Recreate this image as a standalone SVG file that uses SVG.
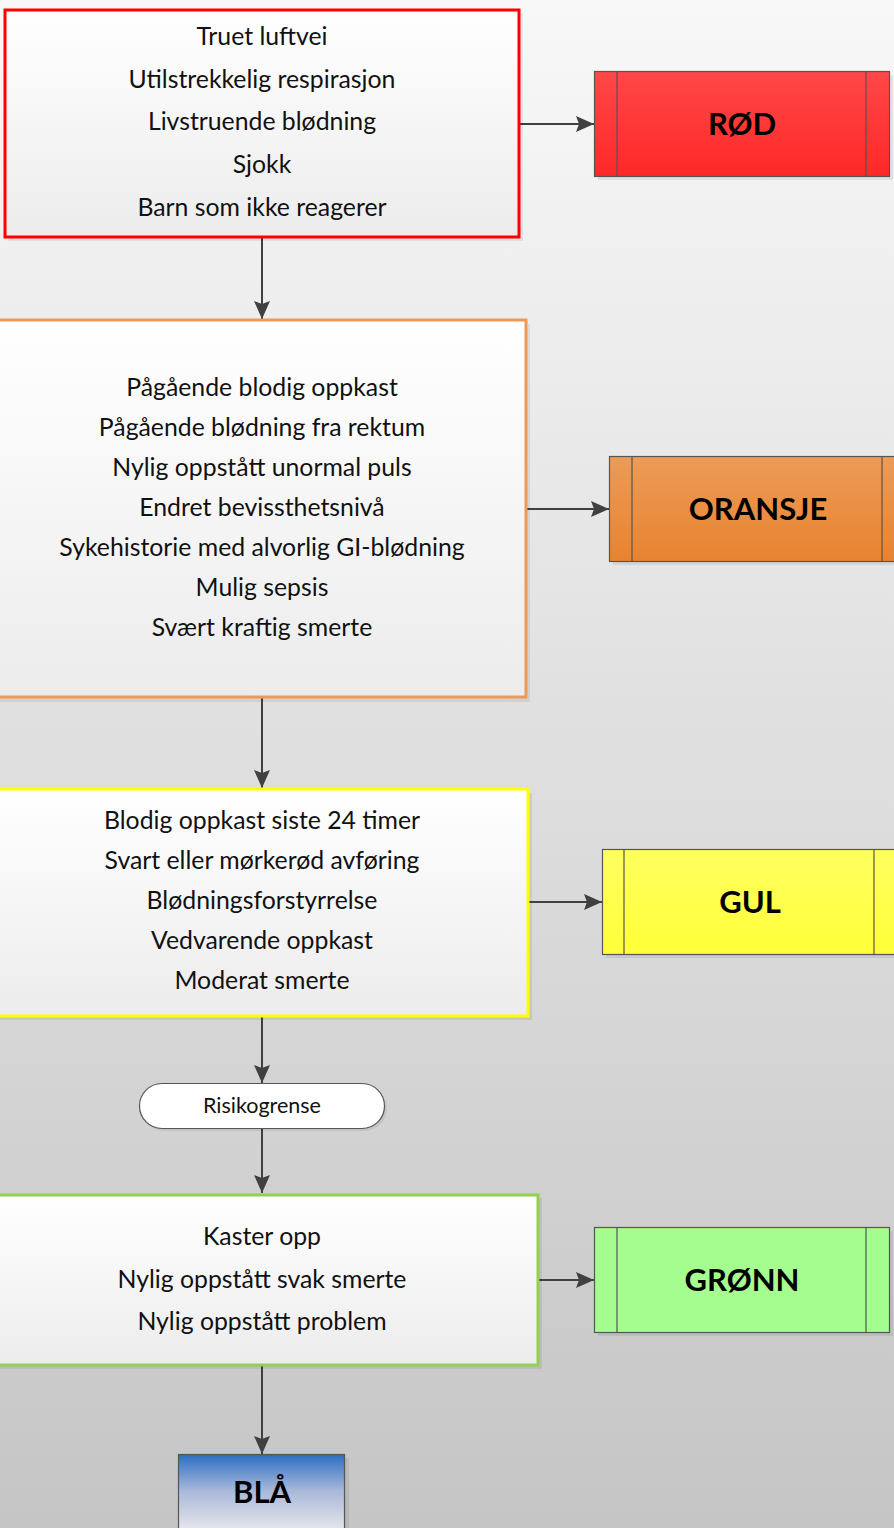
<svg xmlns="http://www.w3.org/2000/svg" width="894" height="1528" viewBox="0 0 894 1528">
  <defs>
    <linearGradient id="bg" x1="0" y1="0" x2="0" y2="1">
      <stop offset="0" stop-color="#f8f8f8"/>
      <stop offset="1" stop-color="#c5c5c5"/>
    </linearGradient>
    <linearGradient id="boxFill" x1="0" y1="0" x2="0" y2="1">
      <stop offset="0" stop-color="#ffffff"/>
      <stop offset="1" stop-color="#ececec"/>
    </linearGradient>
    <linearGradient id="redFill" x1="0" y1="0" x2="0" y2="1">
      <stop offset="0" stop-color="#ff4747"/>
      <stop offset="1" stop-color="#ff2828"/>
    </linearGradient>
    <linearGradient id="orangeFill" x1="0" y1="0" x2="0" y2="1">
      <stop offset="0" stop-color="#ec9b58"/>
      <stop offset="1" stop-color="#e8832f"/>
    </linearGradient>
    <linearGradient id="yellowFill" x1="0" y1="0" x2="0" y2="1">
      <stop offset="0" stop-color="#ffff60"/>
      <stop offset="1" stop-color="#ffff38"/>
    </linearGradient>
    <linearGradient id="blueFill" x1="0" y1="0" x2="0" y2="1">
      <stop offset="0" stop-color="#2a6fc2"/>
      <stop offset="0.45" stop-color="#a9b7d9"/>
      <stop offset="1" stop-color="#ececec"/>
    </linearGradient>
    <marker id="arrow" viewBox="0 0 18 16" refX="18" refY="8" markerWidth="18" markerHeight="16" markerUnits="userSpaceOnUse" orient="auto">
      <path d="M0,0 L18,8 L0,16 L3,8 Z" fill="#404040"/>
    </marker>
  </defs>
  <style>
    .item { font-family: "Lato", "Liberation Sans", sans-serif; font-size: 24.8px; fill: #111; text-anchor: middle; }
    .level { font-family: "Lato", "Liberation Sans", sans-serif; font-size: 31px; font-weight: bold; fill: #000; text-anchor: middle; }
    .pill { font-family: "Lato", "Liberation Sans", sans-serif; font-size: 21.5px; fill: #111; text-anchor: middle; }
    .shadow { fill: #000; opacity: 0.07; }
    .panel { fill: url(#boxFill); stroke-width: 3; }
    .tag { stroke: #555; stroke-width: 1.2; }
    .divider { stroke: #555; stroke-width: 1.2; }
    .conn { stroke: #404040; stroke-width: 2; fill: none; marker-end: url(#arrow); }
  </style>

  <rect x="0" y="0" width="894" height="1528" fill="url(#bg)"/>

  <!-- connectors -->
  <g id="connectors">
    <line class="conn" x1="519" y1="124" x2="594" y2="124"/>
    <line class="conn" x1="262" y1="237" x2="262" y2="319"/>
    <line class="conn" x1="526" y1="509" x2="609" y2="509"/>
    <line class="conn" x1="262" y1="698" x2="262" y2="788"/>
    <line class="conn" x1="528" y1="902" x2="602" y2="902"/>
    <line class="conn" x1="262" y1="1016" x2="262" y2="1083"/>
    <line class="conn" x1="262" y1="1128" x2="262" y2="1193"/>
    <line class="conn" x1="538" y1="1280" x2="594" y2="1280"/>
    <line class="conn" x1="262" y1="1365" x2="262" y2="1454"/>
  </g>

  <!-- red criteria -->
  <g id="red-criteria">
    <rect class="shadow" x="8" y="13" width="515" height="228"/>
    <rect class="panel" x="5" y="10" width="514" height="227" stroke="#ff0000"/>
    <text class="item" x="262" y="45">Truet luftvei</text>
    <text class="item" x="262" y="88">Utilstrekkelig respirasjon</text>
    <text class="item" x="262" y="130">Livstruende blødning</text>
    <text class="item" x="262" y="173">Sjokk</text>
    <text class="item" x="262" y="216">Barn som ikke reagerer</text>
  </g>

  <!-- red level -->
  <g id="level-red">
    <rect class="shadow" x="598" y="75" width="295" height="105"/>
    <rect class="tag" x="594.5" y="71.5" width="295" height="105" fill="url(#redFill)"/>
    <line class="divider" x1="617" y1="71.5" x2="617" y2="176.5"/>
    <line class="divider" x1="866" y1="71.5" x2="866" y2="176.5"/>
    <text class="level" x="742" y="135">RØD</text>
  </g>

  <!-- orange criteria -->
  <g id="orange-criteria">
    <rect class="shadow" x="-10" y="324" width="540" height="378"/>
    <rect class="panel" x="-10" y="320" width="536" height="377" stroke="#ed9a55"/>
    <text class="item" x="262" y="396">Pågående blodig oppkast</text>
    <text class="item" x="262" y="436">Pågående blødning fra rektum</text>
    <text class="item" x="262" y="476">Nylig oppstått unormal puls</text>
    <text class="item" x="262" y="516">Endret bevissthetsnivå</text>
    <text class="item" x="262" y="556">Sykehistorie med alvorlig GI-blødning</text>
    <text class="item" x="262" y="596">Mulig sepsis</text>
    <text class="item" x="262" y="636">Svært kraftig smerte</text>
  </g>

  <!-- orange level -->
  <g id="level-orange">
    <rect class="shadow" x="613" y="460" width="295" height="105"/>
    <rect class="tag" x="609.5" y="456.5" width="295" height="105" fill="url(#orangeFill)"/>
    <line class="divider" x1="632" y1="456.5" x2="632" y2="561.5"/>
    <line class="divider" x1="882" y1="456.5" x2="882" y2="561.5"/>
    <text class="level" x="758" y="520">ORANSJE</text>
  </g>

  <!-- yellow criteria -->
  <g id="yellow-criteria">
    <rect class="shadow" x="-10" y="793" width="542" height="227"/>
    <rect class="panel" x="-10" y="789" width="538" height="227" stroke="#ffff00"/>
    <text class="item" x="262" y="829">Blodig oppkast siste 24 timer</text>
    <text class="item" x="262" y="869">Svart eller mørkerød avføring</text>
    <text class="item" x="262" y="909">Blødningsforstyrrelse</text>
    <text class="item" x="262" y="949">Vedvarende oppkast</text>
    <text class="item" x="262" y="989">Moderat smerte</text>
  </g>

  <!-- yellow level -->
  <g id="level-yellow">
    <rect class="shadow" x="606" y="853" width="295" height="105"/>
    <rect class="tag" x="602.5" y="849.5" width="295" height="105" fill="url(#yellowFill)"/>
    <line class="divider" x1="624" y1="849.5" x2="624" y2="954.5"/>
    <line class="divider" x1="874" y1="849.5" x2="874" y2="954.5"/>
    <text class="level" x="750" y="913">GUL</text>
  </g>

  <!-- risk threshold -->
  <g id="risk-threshold">
    <rect class="shadow" x="142" y="1086" width="245" height="45" rx="22.5"/>
    <rect x="139.5" y="1083.5" width="245" height="45" rx="22.5" fill="#ffffff" stroke="#555" stroke-width="1.2"/>
    <text class="pill" x="262" y="1113">Risikogrense</text>
  </g>

  <!-- green criteria -->
  <g id="green-criteria">
    <rect class="shadow" x="-10" y="1198" width="552" height="171"/>
    <rect class="panel" x="-10" y="1195" width="548" height="170" stroke="#92d050"/>
    <text class="item" x="262" y="1245">Kaster opp</text>
    <text class="item" x="262" y="1288">Nylig oppstått svak smerte</text>
    <text class="item" x="262" y="1330">Nylig oppstått problem</text>
  </g>

  <!-- green level -->
  <g id="level-green">
    <rect class="shadow" x="598" y="1231" width="295" height="105"/>
    <rect class="tag" x="594.5" y="1227.5" width="295" height="105" fill="#a4fd8e"/>
    <line class="divider" x1="617" y1="1227.5" x2="617" y2="1332.5"/>
    <line class="divider" x1="866" y1="1227.5" x2="866" y2="1332.5"/>
    <text class="level" x="742" y="1291">GRØNN</text>
  </g>

  <!-- blue level -->
  <g id="level-blue">
    <rect class="shadow" x="182" y="1458" width="167" height="80"/>
    <rect class="tag" x="178.5" y="1454.5" width="166" height="80" fill="url(#blueFill)"/>
    <text class="level" x="262" y="1503">BLÅ</text>
  </g>
</svg>
